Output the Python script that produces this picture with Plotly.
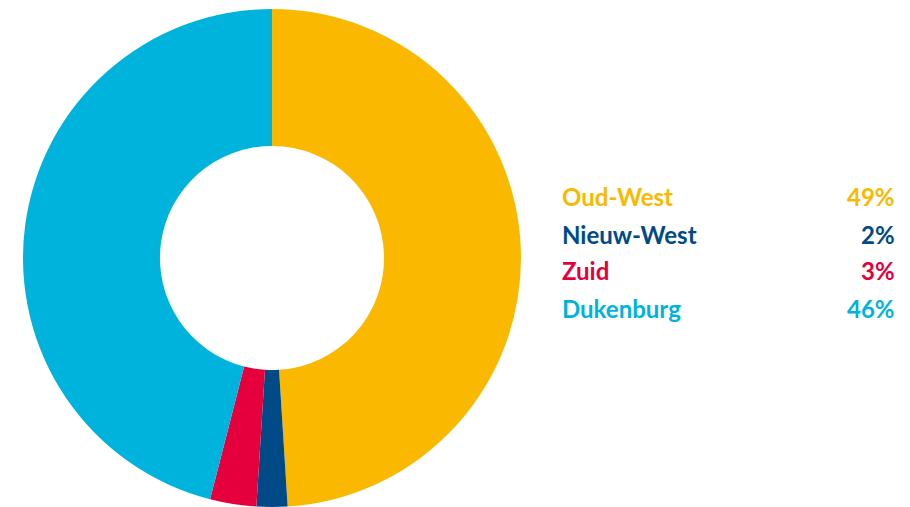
import plotly.graph_objects as go

labels = ["Oud-West", "Nieuw-West", "Zuid", "Dukenburg"]
values = [49, 2, 3, 46]
colors = ["#FBB800", "#004A87", "#E5003D", "#00B3DD"]

W, H = 910, 507

fig = go.Figure(go.Pie(
    labels=labels, values=values, hole=0.45, sort=False, direction="clockwise",
    rotation=0, marker=dict(colors=colors, line=dict(width=0)),
    textinfo="none", hoverinfo="label+percent", showlegend=False,
    domain=dict(x=[22 / W, 522 / W], y=[0, 1 - 9 / H]),
))

row_y = [196, 234, 270, 308]
font_family = "Lato, 'Open Sans', sans-serif"
for lab, val, col, yy in zip(labels, values, colors, row_y):
    fig.add_annotation(x=560 / W, y=1 - yy / H, xref="paper", yref="paper",
                       xanchor="left", yanchor="middle", showarrow=False,
                       text=f"<b>{lab}</b>", font=dict(family=font_family, size=24, color=col))
    fig.add_annotation(x=897 / W, y=1 - yy / H, xref="paper", yref="paper",
                       xanchor="right", yanchor="middle", showarrow=False,
                       text=f"<b>{val}%</b>", font=dict(family=font_family, size=24, color=col))

fig.update_layout(width=W, height=H, margin=dict(l=0, r=0, t=0, b=0),
                  paper_bgcolor="white", plot_bgcolor="white")
fig.write_html("out.html")
